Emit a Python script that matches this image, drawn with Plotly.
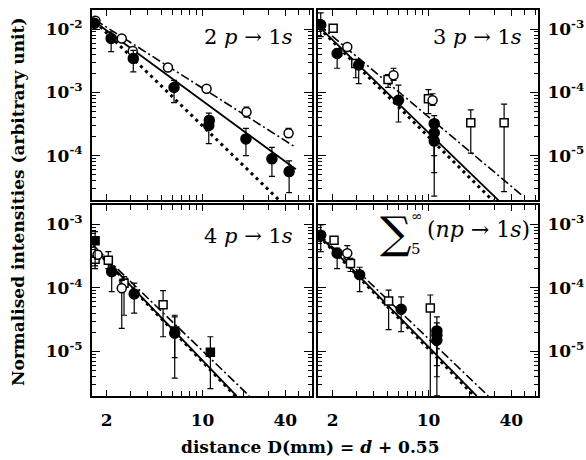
import numpy as np
import plotly.graph_objects as go

# ---------------- data ----------------
# distances D (mm) and normalised intensities, with upper / lower error limits

# 2p -> 1s
p2_fill_D = [1.63, 2.16, 3.13, 6.2, 11.1, 11.2, 20.7, 32, 42.7]
p2_fill_I = [0.0123, 0.0071, 0.00343, 0.00119, 0.00030, 0.00036, 0.000184, 8.9e-5, 5.6e-5]
p2_fill_hi = [0.0145, 0.0090, 0.0046, 0.00155, 0.00047, 0.00042, 0.00027, 1.35e-4, 8.3e-5]
p2_fill_lo = [0.0105, 0.0044, 0.0021, 0.00069, 0.000155, 0.00030, 0.00010, 4.7e-5, 2.6e-5]
p2_open_D = [1.66, 2.58, 3.1, 5.6, 10.7, 20.9, 42.3]
p2_open_I = [0.0135, 0.0071, 0.0045, 0.00247, 0.00114, 0.00049, 0.000226]
p2_open_hi = [0.0150, 0.0079, 0.0050, 0.0027, 0.00125, 0.000585, 0.00027]
p2_open_lo = [0.0120, 0.0064, 0.0040, 0.00215, 0.00102, 0.000406, 0.000194]
p2_solid = ([1.63, 47.8], [0.0131, 6.1e-5])
p2_dot = ([1.65, 40.0], [0.0130, 1.6e-5])
p2_dashdot = ([1.65, 47.8], [0.0139, 1.35e-4])

# 3p -> 1s
p3_fill_D = [1.64, 2.16, 3.1, 6.04, 11.0, 11.0, 11.0]
p3_fill_I = [1.16e-3, 4.1e-4, 2.7e-4, 7.5e-5, 3.2e-5, 2.3e-5, 1.7e-5]
p3_fill_hi = [1.8e-3, 4.8e-4, 3.2e-4, 1.3e-4, 4.3e-5, 3.5e-5, 2.5e-5]
p3_fill_lo = [7.6e-4, 2.4e-4, 1.37e-4, 3.4e-5, 2.3e-6, 5.4e-6, 1.0e-5]
p3_open_D = [1.63, 2.56, 5.56, 10.7]
p3_open_I = [1.2e-3, 5.2e-4, 1.86e-4, 7.5e-5]
p3_open_hi = [1.35e-3, 5.9e-4, 2.4e-4, 9.5e-5]
p3_open_lo = [1.05e-3, 4.6e-4, 1.55e-4, 6.2e-5]
p3_sq_D = [2.02, 2.95, 5.07, 9.98, 20.3, 35.5]
p3_sq_I = [1.03e-3, 2.85e-4, 1.6e-4, 7.9e-5, 3.3e-5, 3.3e-5]
p3_sq_hi = [1.15e-3, 3.3e-4, 1.9e-4, 1.1e-4, 5.3e-5, 6.5e-5]
p3_sq_lo = [9.0e-4, 1.7e-4, 1.2e-4, 4.6e-5, 1.1e-5, 2.7e-6]
p3_solid = ([1.59, 32.6], [1.09e-3, 1.93e-6])
p3_dot = ([1.59, 29.5], [1.05e-3, 1.93e-6])
p3_dashdot = ([1.59, 48.7], [1.16e-3, 2.3e-6])

# 4p -> 1s
p4_fill_D = [2.18, 3.18, 6.27]
p4_fill_I = [1.79e-4, 8.0e-5, 1.93e-5]
p4_fill_hi = [2.2e-4, 1.18e-4, 3.5e-5]
p4_fill_lo = [8.7e-5, 4.0e-5, 3.8e-6]
p4_fsq_D = [1.65, 6.27, 11.4]
p4_fsq_I = [5.5e-4, 2.1e-5, 9.7e-6]
p4_fsq_hi = [7.6e-4, 3.7e-5, 1.7e-5]
p4_fsq_lo = [2.0e-4, 8.0e-6, 2.6e-6]
p4_open_D = [1.60, 1.72, 2.58]
p4_open_I = [3.7e-4, 3.3e-4, 9.8e-5]
p4_open_hi = [4.2e-4, 3.8e-4, 1.3e-4]
p4_open_lo = [3.2e-4, 2.8e-4, 2.3e-5]
p4_sq_D = [1.65, 2.06, 2.68, 5.16]
p4_sq_I = [2.8e-4, 2.7e-4, 1.18e-4, 5.4e-5]
p4_sq_hi = [3.4e-4, 3.7e-4, 1.5e-4, 9.0e-5]
p4_sq_lo = [2.2e-4, 2.0e-4, 3.7e-5, 1.7e-5]
p4_solid = ([1.60, 17.7], [4.4e-4, 2.0e-6])
p4_dot = ([1.60, 17.3], [4.3e-4, 2.0e-6])
p4_dashdot = ([1.60, 21.9], [4.6e-4, 2.0e-6])

# sum over n >= 5 of np -> 1s
p5_fill_D = [1.64, 2.16, 3.15, 6.32, 11.5, 11.5, 11.5]
p5_fill_I = [6.7e-4, 3.5e-4, 1.6e-4, 4.6e-5, 2.1e-5, 1.8e-5, 1.5e-5]
p5_fill_hi = [9.7e-4, 4.2e-4, 2.1e-4, 7.2e-5, 3.5e-5, 2.8e-5, 2.2e-5]
p5_fill_lo = [3.7e-4, 2.0e-4, 8.7e-5, 2.05e-5, 2.0e-6, 4.0e-6, 6.0e-6]
p5_open_D = [1.62, 2.56]
p5_open_I = [6.3e-4, 3.5e-4]
p5_open_hi = [7.0e-4, 4.6e-4]
p5_open_lo = [5.6e-4, 3.0e-4]
p5_sq_D = [2.05, 2.7, 5.12, 10.3]
p5_sq_I = [5.6e-4, 2.4e-4, 6.2e-5, 4.8e-5]
p5_sq_hi = [6.3e-4, 2.9e-4, 9.2e-5, 7.7e-5]
p5_sq_lo = [4.8e-4, 1.8e-4, 2.2e-5, 1.8e-6]
p5_solid = ([1.59, 22.4], [6.7e-4, 2.0e-6])
p5_dot = ([1.59, 21.5], [6.5e-4, 2.0e-6])
p5_dashdot = ([1.59, 27.2], [7.0e-4, 2.0e-6])

x_major = [2, 10, 40]
x_major_text = ["2", "10", "40"]
x_minor = [3, 4, 5, 6, 7, 8, 9, 20, 30, 50, 60]

# ---------------- figure ----------------
W, H = 586, 460
SERIF = "DejaVu Serif"
fig = go.Figure()


def px_x(p):
    return p / W


def px_y(p):
    return 1 - p / H


x_domains = {1: [92, 312], 2: [318, 538], 3: [92, 312], 4: [318, 538]}
y_domains = {1: [10, 200], 2: [10, 200], 3: [205, 396], 4: [205, 396]}
y_ranges = {1: (-4.7, -1.7), 2: (-5.7, -2.7), 3: (-5.7, -2.7), 4: (-5.7, -2.7)}


def points(k, D, I, hi, lo, symbol, fill, size):
    sfx = "" if k == 1 else str(k)
    fig.add_trace(go.Scatter(
        x=D, y=I, mode="markers", xaxis="x" + sfx, yaxis="y" + sfx,
        marker=dict(symbol=symbol, size=size, color=fill,
                    line=dict(color="black", width=1.5)),
        error_y=dict(type="data", symmetric=False,
                     array=[h - v for h, v in zip(hi, I)],
                     arrayminus=[v - l for v, l in zip(I, lo)],
                     color="black", thickness=1.2, width=3),
        showlegend=False, hoverinfo="skip"))


def fitline(k, xy, dash, width):
    sfx = "" if k == 1 else str(k)
    fig.add_trace(go.Scatter(
        x=xy[0], y=xy[1], mode="lines", xaxis="x" + sfx, yaxis="y" + sfx,
        line=dict(color="black", width=width, dash=dash),
        showlegend=False, hoverinfo="skip"))


def lines(k, solid, dot, dashdot):
    fitline(k, dot, "3px,4px", 3)
    fitline(k, solid, "solid", 1.8)
    fitline(k, dashdot, "9px,3px,2px,3px", 1.6)


lines(1, p2_solid, p2_dot, p2_dashdot)
points(1, p2_open_D, p2_open_I, p2_open_hi, p2_open_lo, "circle", "white", 9)
points(1, p2_fill_D, p2_fill_I, p2_fill_hi, p2_fill_lo, "circle", "black", 10)

lines(2, p3_solid, p3_dot, p3_dashdot)
points(2, p3_sq_D, p3_sq_I, p3_sq_hi, p3_sq_lo, "square", "white", 8)
points(2, p3_open_D, p3_open_I, p3_open_hi, p3_open_lo, "circle", "white", 9)
points(2, p3_fill_D, p3_fill_I, p3_fill_hi, p3_fill_lo, "circle", "black", 10)

lines(3, p4_solid, p4_dot, p4_dashdot)
points(3, p4_sq_D, p4_sq_I, p4_sq_hi, p4_sq_lo, "square", "white", 8)
points(3, p4_open_D, p4_open_I, p4_open_hi, p4_open_lo, "circle", "white", 9)
points(3, p4_fsq_D, p4_fsq_I, p4_fsq_hi, p4_fsq_lo, "square", "black", 8)
points(3, p4_fill_D, p4_fill_I, p4_fill_hi, p4_fill_lo, "circle", "black", 10)

lines(4, p5_solid, p5_dot, p5_dashdot)
points(4, p5_sq_D, p5_sq_I, p5_sq_hi, p5_sq_lo, "square", "white", 8)
points(4, p5_open_D, p5_open_I, p5_open_hi, p5_open_lo, "circle", "white", 9)
points(4, p5_fill_D, p5_fill_I, p5_fill_hi, p5_fill_lo, "circle", "black", 10)

tickfont = dict(family=SERIF, size=17, color="black", weight="bold")
layout = dict(width=W, height=H, margin=dict(l=0, r=0, t=0, b=0),
              paper_bgcolor="white", plot_bgcolor="white", showlegend=False,
              font=dict(family=SERIF, color="black"))

for k in (1, 2, 3, 4):
    sfx = "" if k == 1 else str(k)
    x0, x1 = x_domains[k]
    y0, y1 = y_domains[k]
    lo, hi = y_ranges[k]
    decades = list(range(int(np.floor(lo)), int(np.ceil(hi)) + 1))
    y_major = [10.0 ** d for d in decades]
    y_major_text = ["10<sup>%d</sup>" % d for d in decades]
    y_minor = [m * 10.0 ** d for d in decades for m in range(2, 10)]
    layout["xaxis" + sfx] = dict(
        type="log", range=[0.195, 1.797], domain=[px_x(x0), px_x(x1)],
        anchor="y" + sfx, showgrid=False, zeroline=False,
        showline=True, linecolor="black", linewidth=2, mirror="allticks",
        ticks="inside", ticklen=6, tickwidth=1.2, tickcolor="black",
        tickmode="array", tickvals=x_major, ticktext=x_major_text,
        showticklabels=k in (3, 4), tickfont=tickfont, ticklabelstandoff=8,
        minor=dict(tickmode="array", tickvals=x_minor, ticks="inside",
                   ticklen=5, tickwidth=1.2, tickcolor="black", showgrid=False))
    layout["yaxis" + sfx] = dict(
        type="log", range=[lo, hi], domain=[px_y(y1), px_y(y0)],
        anchor="x" + sfx, side="left" if k in (1, 3) else "right",
        showgrid=False, zeroline=False,
        showline=True, linecolor="black", linewidth=2, mirror="allticks",
        ticks="inside", ticklen=8, tickwidth=1.2, tickcolor="black",
        tickmode="array", tickvals=y_major, ticktext=y_major_text,
        tickfont=tickfont, ticklabelstandoff=4,
        minor=dict(tickmode="array", tickvals=y_minor, ticks="inside",
                   ticklen=4, tickwidth=1.2, tickcolor="black", showgrid=False))

ann = []
label_font = dict(family=SERIF, size=21, color="black")
ann.append(dict(text="2 <i>p</i> → 1<i>s</i>", x=px_x(295), y=px_y(37),
                xanchor="right", yanchor="middle", font=label_font))
ann.append(dict(text="3 <i>p</i> → 1<i>s</i>", x=px_x(524), y=px_y(37),
                xanchor="right", yanchor="middle", font=label_font))
ann.append(dict(text="4 <i>p</i> → 1<i>s</i>", x=px_x(295), y=px_y(236),
                xanchor="right", yanchor="middle", font=label_font))
ann.append(dict(text="∑", x=px_x(395), y=px_y(232), xanchor="center",
                yanchor="middle", font=dict(family=SERIF, size=44, color="black")))
ann.append(dict(text="∞", x=px_x(409), y=px_y(216), xanchor="left",
                yanchor="middle", font=dict(family=SERIF, size=14, color="black")))
ann.append(dict(text="5", x=px_x(409), y=px_y(249), xanchor="left",
                yanchor="middle", font=dict(family=SERIF, size=15, color="black")))
ann.append(dict(text="(<i>np</i> → 1<i>s</i>)", x=px_x(532), y=px_y(229),
                xanchor="right", yanchor="middle",
                font=dict(family=SERIF, size=22, color="black")))
ann.append(dict(text="Normalised intensities (arbitrary unit)", textangle=-90,
                x=px_x(18), y=px_y(202), xanchor="center", yanchor="middle",
                font=dict(family=SERIF, size=17, color="black", weight="bold")))
ann.append(dict(text="distance D(mm) = <i>d</i> + 0.55",
                x=px_x(310), y=px_y(447), xanchor="center", yanchor="middle",
                font=dict(family=SERIF, size=17, color="black", weight="bold")))
for a in ann:
    a.update(xref="paper", yref="paper", showarrow=False)
layout["annotations"] = ann

fig.update_layout(**layout)
fig.write_html("out.html")
